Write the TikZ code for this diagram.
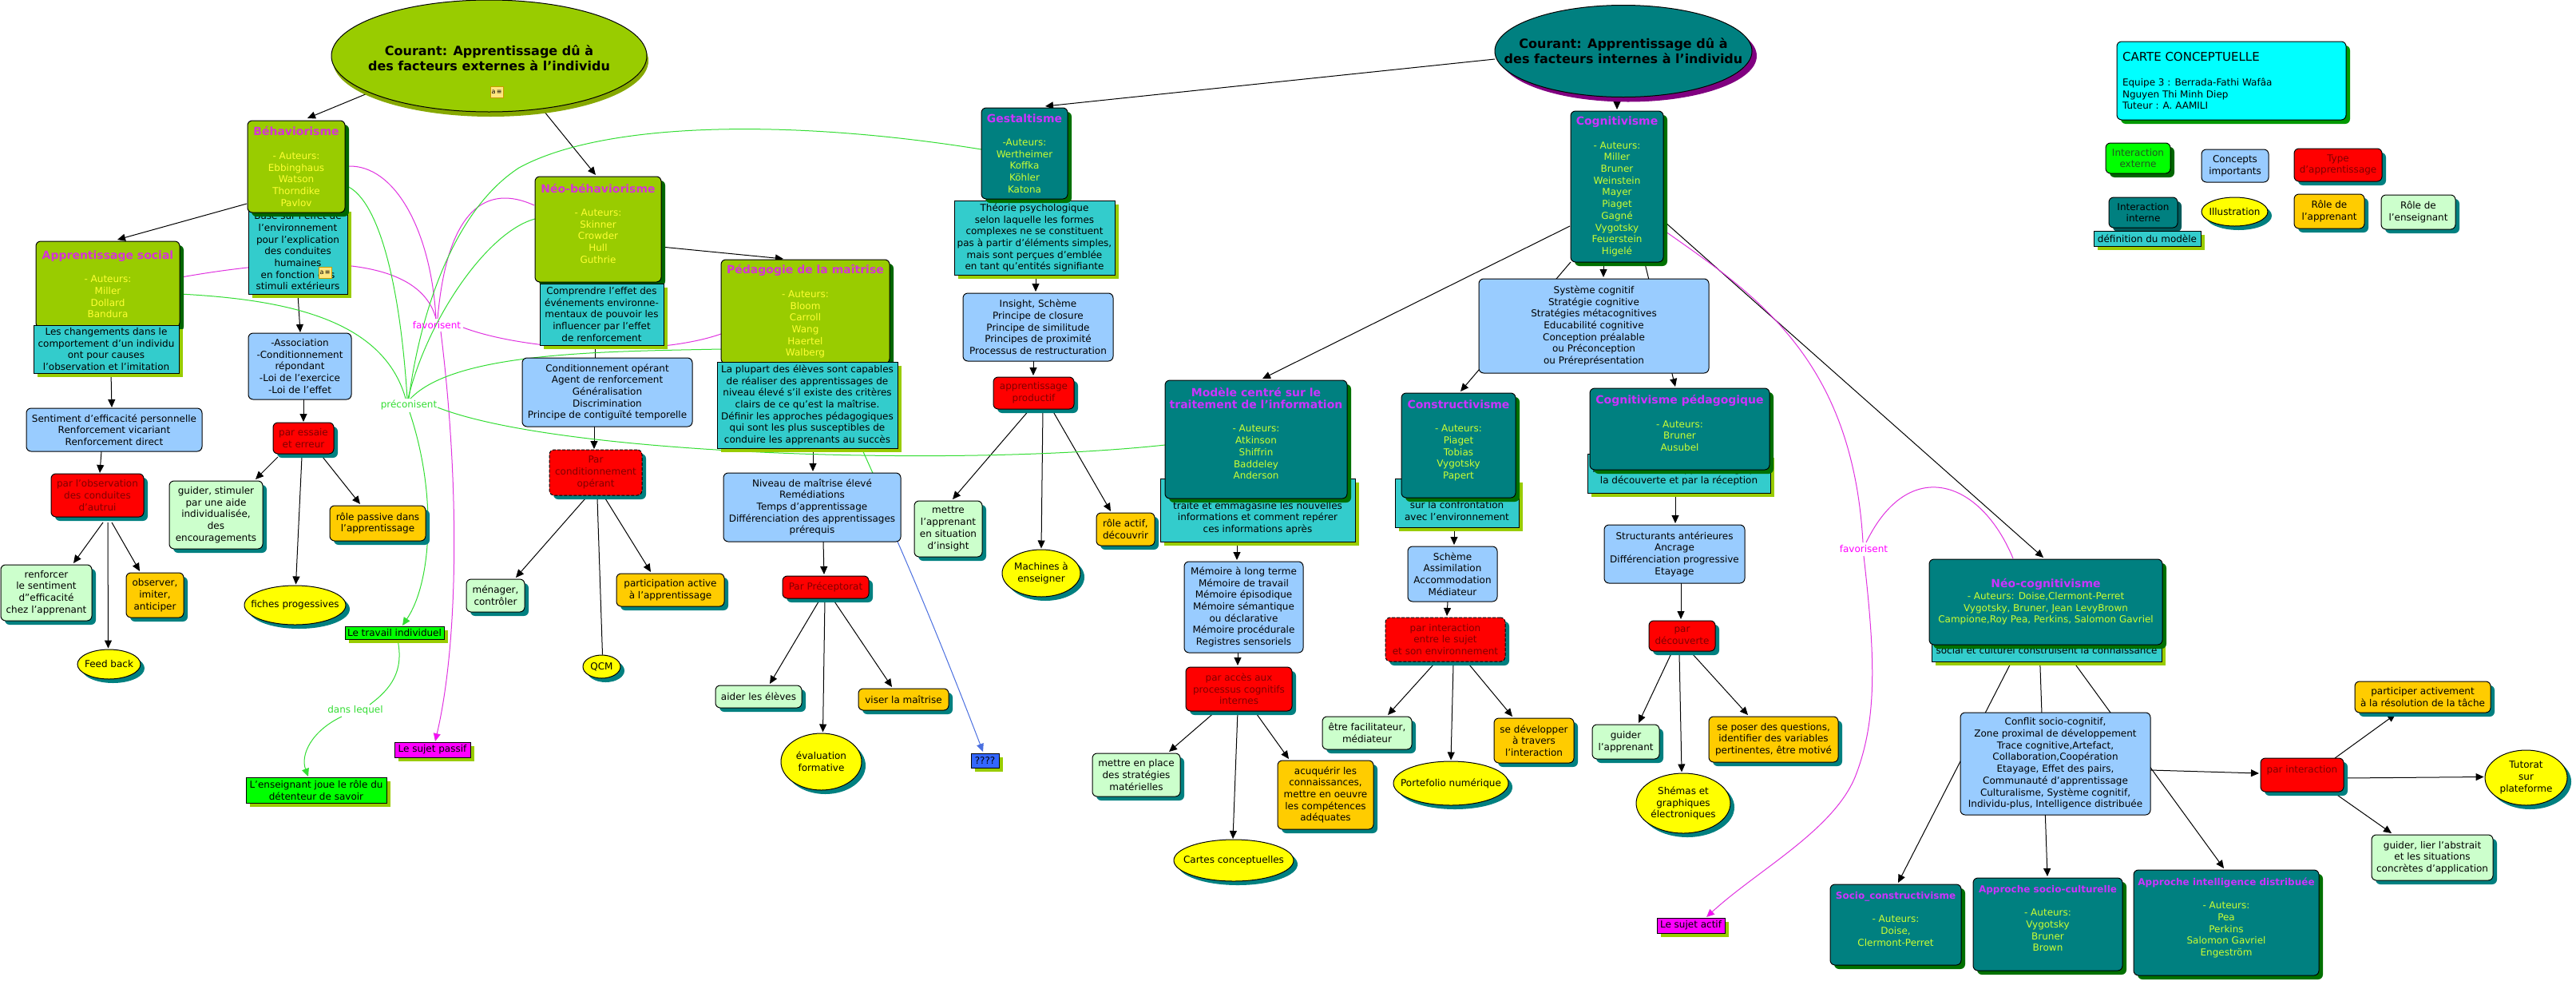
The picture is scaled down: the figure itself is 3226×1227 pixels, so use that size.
\documentclass[tikz,border=0pt]{standalone}
\usepackage{fontspec}
\setmainfont{DejaVu Sans}
\usetikzlibrary{shapes.geometric,shadows,arrows.meta,calc}
\pgfdeclarelayer{bg}
\pgfsetlayers{bg,main}
\definecolor{cGC}{HTML}{99CC00}
\definecolor{cGCsh}{HTML}{006600}
\definecolor{cTC}{HTML}{008080}
\definecolor{cTCsh}{HTML}{007000}
\definecolor{cTD}{HTML}{33CCCC}
\definecolor{cTDsh}{HTML}{99CC00}
\definecolor{cLB}{HTML}{99CCFF}
\definecolor{cRD}{HTML}{FF0000}
\definecolor{cRDt}{HTML}{800000}
\definecolor{cSh}{HTML}{008080}
\definecolor{cLG}{HTML}{CCFFCC}
\definecolor{cOR}{HTML}{FFCC00}
\definecolor{cYL}{HTML}{FFFF00}
\definecolor{cTitG}{HTML}{D633D6}
\definecolor{cTitT}{HTML}{CC33FF}
\definecolor{cAutG}{HTML}{FFFF33}
\definecolor{cAutT}{HTML}{CCFF33}
\definecolor{cMag}{HTML}{E033E0}
\definecolor{cMagB}{HTML}{FF00FF}
\definecolor{cLine}{HTML}{33DD33}
\definecolor{cBright}{HTML}{00FF00}
\definecolor{cBlueQ}{HTML}{3366FF}
\definecolor{cBlueL}{HTML}{4A6FE0}
\definecolor{cCyan}{HTML}{00FFFF}
\definecolor{cExtSh}{HTML}{86A800}
\definecolor{cPurp}{HTML}{800080}
\definecolor{cCarteSh}{HTML}{009900}
\definecolor{cIcon}{HTML}{FFE680}
\definecolor{cIconB}{HTML}{C89B00}
\definecolor{cIntSh}{HTML}{005A5A}
\definecolor{cExtTxt}{HTML}{225522}
\tikzset{
  base/.style={inner sep=0pt, outer sep=0pt, align=center, font=\fontsize{6}{7.35}\selectfont, draw=black, line width=0.5pt},
  shT/.style={drop shadow={shadow xshift=2.5pt, shadow yshift=-2.5pt, fill=cSh, opacity=1}},
  gc/.style={base, rounded corners=3pt, fill=cGC, text=cAutG, drop shadow={shadow xshift=2.5pt, shadow yshift=-2.5pt, fill=cGCsh, opacity=1}},
  tc/.style={base, rounded corners=3pt, fill=cTC, text=cAutT, drop shadow={shadow xshift=2.5pt, shadow yshift=-2.5pt, fill=cTCsh, opacity=1}},
  td/.style={base, fill=cTD, drop shadow={shadow xshift=2.5pt, shadow yshift=-2.5pt, fill=cTDsh, opacity=1}},
  lb/.style={base, rounded corners=3pt, fill=cLB},
  rd/.style={base, rounded corners=3pt, fill=cRD, text=cRDt, shT},
  rdd/.style={rd, dash pattern=on 2pt off 1pt},
  lg/.style={base, rounded corners=3pt, fill=cLG, shT},
  orn/.style={base, rounded corners=3pt, fill=cOR, shT},
  yel/.style={base, ellipse, fill=cYL, shT},
  msc/.style={base, drop shadow={shadow xshift=2.5pt, shadow yshift=-2.5pt, fill=cTDsh, opacity=1}},
  txt/.style={inner sep=0pt, outer sep=0pt, align=center, font=\fontsize{6}{7.35}\selectfont, text=black},
  bigtxt/.style={inner sep=0pt, outer sep=0pt, align=center, font=\fontsize{8}{9.5}\selectfont\bfseries, text=black},
  lblM/.style={inner sep=0pt, font=\fontsize{6}{7.35}\selectfont, text=cMagB},
  lblG/.style={inner sep=0pt, font=\fontsize{6}{7.35}\selectfont, text=cLine},
  icon/.style={draw=cIconB, fill=cIcon, line width=0.4pt, minimum width=8pt, minimum height=7pt, inner sep=0pt, font=\fontsize{4}{4}\selectfont, text=black},
  blk/.style={draw=black, line width=0.5pt},
  arr/.style={blk, -{Triangle[length=5pt,width=4.5pt]}},
  mag/.style={draw=cMag, line width=0.5pt},
  marr/.style={mag, -{Triangle[length=5pt,width=4.5pt,fill=cMagB]}},
  grn/.style={draw=cLine, line width=0.5pt},
  garr/.style={grn, -{Triangle[length=5pt,width=4.5pt,fill=cLine]}},
  barr/.style={draw=cBlueL, line width=0.5pt, -{Triangle[length=5pt,width=4.5pt]}}
}
\newcommand\bx[7]{\node[#1, minimum width={(#5-#3)*0.5pt}, minimum height={(#6-#4)*0.5pt}] (#2) at ({(#3+#5)/2},{(#4+#6)/2}) {#7};}
\newcommand\ex[7]{\node[#1, minimum width={(#5-#3)*0.5pt}, minimum height={(#6-#4)*0.5pt}, label={[txt]center:{#7}}] (#2) at ({(#3+#5)/2},{(#4+#6)/2}) {};}
\newcommand\ttlG[1]{{\fontsize{7}{7.35}\selectfont\bfseries\color{cTitG}#1}}
\newcommand\ttlT[1]{{\fontsize{7}{7.35}\selectfont\bfseries\color{cTitT}#1}}
\newcommand\ttlS[1]{{\fontsize{6}{7.35}\selectfont\bfseries\color{cTitT}#1}}
\begin{document}
\begin{tikzpicture}[x=0.5pt,y=-0.5pt]
\useasboundingbox (0,0) rectangle (3226,1227);
\begin{pgfonlayer}{bg}
\fill[white] (0,0) rectangle (3226,1227);
\end{pgfonlayer}

% ---------- main ellipses ----------
\node[base, ellipse, fill=cGC, minimum width=197.5pt, minimum height=70pt,
  drop shadow={shadow xshift=1pt, shadow yshift=-3pt, fill=cExtSh, opacity=1},
  label={[bigtxt]center:{~\\Courant: Apprentissage dû à\\des facteurs externes à l'individu}}] (ext) at (612.5,70) {};
\node[icon] (ic1) at (622,115) {a\,≡};
\node[base, ellipse, fill=cTC, minimum width=161pt, minimum height=57.5pt,
  drop shadow={shadow xshift=3pt, shadow yshift=-3pt, fill=cPurp, opacity=1},
  label={[bigtxt]center:{Courant: Apprentissage dû à\\des facteurs internes à l'individu}}] (intE) at (2033,64) {};

% ---------- left (external) branch ----------
\bx{td}{basebox}{311}{260}{435}{368}{Basé sur l'effet de\\l'environnement\\pour  l'explication\\des conduites\\humaines\\en fonction des\\stimuli extérieurs}
\node[icon] (ic2) at (407,341) {a\,≡};
\bx{gc}{behav}{310}{151}{432}{266}{\ttlG{Béhaviorisme}\\[7.35pt]- Auteurs:\\Ebbinghaus\\Watson\\Thorndike\\Pavlov}
\bx{gc}{asoc}{45}{302}{225}{410}{\ttlG{Apprentissage social}\\[7.35pt]- Auteurs:\\Miller\\Dollard\\Bandura}
\bx{td}{chg}{42}{407}{224}{467}{Les changements dans le\\comportement d'un individu\\ont pour causes\\l'observation et l'imitation}
\bx{gc}{neobeh}{670}{221}{828}{353}{\ttlG{Néo-béhaviorisme}\\[7.35pt]- Auteurs:\\Skinner\\Crowder\\Hull\\Guthrie\\~}
\bx{td}{compr}{676}{355}{831}{432}{Comprendre l'effet des\\événements environne-\\mentaux de pouvoir les\\influencer par l'effet\\de renforcement}
\bx{gc}{pedag}{903}{325}{1114}{455}{\ttlG{Pédagogie de la maîtrise}\\[7.35pt]- Auteurs:\\Bloom\\Carroll\\Wang\\Haertel\\Walberg}
\bx{td}{plupart}{898}{453}{1124}{561}{La plupart des élèves sont capables\\de réaliser des apprentissages de\\niveau élevé  s'il existe des critères\\clairs de ce qu'est la maîtrise.\\ Définir les approches pédagogiques\\qui sont les plus susceptibles de\\conduire les apprenants au succès}

\bx{lb}{sentim}{33}{511}{253}{565}{Sentiment d'efficacité personnelle\\Renforcement vicariant\\Renforcement direct}
\bx{rd}{parobs}{64}{593}{180}{647}{par l'observation\\des conduites\\d'autrui}
\bx{lg}{renf}{1}{707}{115}{777}{renforcer\\le sentiment\\d"efficacité\\chez l'apprenant}
\bx{orn}{observer}{158}{717}{230}{773}{observer,\\imiter,\\anticiper}
\ex{yel}{feedback}{97}{813}{176}{850}{Feed back}

\bx{lb}{assoc}{311}{417}{440}{500}{-Association\\-Conditionnement\\répondant\\-Loi de l'exercice\\-Loi de l'effet}
\bx{rd}{paress}{342}{529}{418}{568}{par essaie\\et erreur}
\bx{lg}{guider1}{212}{602}{329}{687}{guider, stimuler\\par une aide\\individualisée,\\des\\encouragements}
\bx{orn}{passive}{413}{633}{533}{677}{rôle passive dans\\l’apprentissage}
\ex{yel}{fiches}{306}{733}{433}{782}{fiches progessives}

\bx{lb}{condop}{654}{448}{867}{534}{Conditionnement opérant\\Agent de renforcement\\Généralisation\\Discrimination\\Principe de contiguïté temporelle}
\bx{rdd}{parcond}{688}{563}{804}{620}{Par\\conditionnement\\opérant}
\bx{lg}{menager}{584}{725}{657}{766}{ménager,\\contrôler}
\bx{orn}{particip}{772}{718}{907}{759}{participation active\\à l’apprentissage}
\ex{yel}{qcm}{730}{820}{777}{849}{QCM}

\bx{lb}{niveau}{906}{592}{1128}{678}{Niveau de maîtrise  élevé\\Remédiations\\Temps d’apprentissage\\Différenciation des apprentissages\\prérequis}
\bx{rd}{precept}{980}{721}{1088}{749}{Par Préceptorat}
\bx{lg}{aider}{896}{858}{1004}{886}{aider les élèves}
\bx{orn}{viser}{1075}{862}{1188}{889}{viser la maîtrise}
\ex{yel}{evalf}{978}{918}{1079}{989}{évaluation\\formative}
\bx{msc,fill=cBlueQ}{qqq}{1216}{943}{1251}{961}{????}

\bx{msc,fill=cBright}{travail}{432}{784}{556}{800}{Le travail individuel}
\bx{msc,fill=cBright}{enseign}{308}{973}{484}{1005}{L'enseignant joue le rôle du\\détenteur de savoir}
\bx{msc,fill=cMagB}{passif}{494}{929}{589}{948}{Le sujet passif}

% ---------- Gestaltisme ----------
\bx{td}{theorie}{1195}{251}{1396}{344}{Théorie psychologique\\selon laquelle les formes\\complexes ne se constituent\\pas à partir d'éléments simples,\\mais sont perçues d'emblée\\en tant qu'entités signifiante}
\bx{tc}{gestalt}{1229}{135}{1337}{249}{\ttlT{Gestaltisme}\\[7.35pt]-Auteurs:\\Wertheimer\\Koffka\\Köhler\\Katona}
\bx{lb}{insight}{1206}{367}{1394}{452}{Insight, Schème\\Principe de closure\\Principe de similitude\\Principes de proximité\\Processus de restructuration}
\bx{rd}{appprod}{1244}{472}{1345}{512}{apprentissage\\productif}
\bx{lg}{mettre1}{1145}{627}{1230}{697}{mettre\\l'apprenant\\en situation\\d'insight}
\ex{yel}{machines}{1255}{688}{1353}{747}{Machines à\\enseigner}
\bx{orn}{actif}{1373}{642}{1446}{683}{rôle actif,\\découvrir}

% ---------- Cognitivisme ----------
\bx{tc}{cognit}{1967}{139}{2083}{328}{\ttlT{Cognitivisme}\\[7.35pt]- Auteurs:\\Miller\\Bruner\\Weinstein\\Mayer\\Piaget\\Gagné\\Vygotsky\\Feuerstein\\Higelé}
\bx{lb}{systeme}{1852}{349}{2140}{467}{Système cognitif\\Stratégie cognitive\\Stratégies métacognitives\\Educabilité cognitive\\Conception préalable\\ou Préconception\\ou Préreprésentation}

\bx{td}{modeleT}{1453}{599}{1697}{678}{~\\~\\traite et emmagasine les nouvelles\\informations et comment repérer\\ces informations après}
\bx{tc}{modele}{1459}{476}{1687}{624}{\ttlT{Modèle centré sur le}\\\ttlT{traitement de l'information}\\[7.35pt]- Auteurs:\\Atkinson\\Shiffrin\\Baddeley\\Anderson\\~}
\bx{lb}{memoire}{1483}{703}{1632}{817}{Mémoire à long terme\\Mémoire de travail\\Mémoire épisodique\\Mémoire sémantique\\ou déclarative\\Mémoire procédurale\\Registres sensoriels}
\bx{rd}{paracces}{1485}{835}{1618}{890}{par accès aux\\processus cognitifs\\internes}
\bx{lg}{mettre2}{1368}{943}{1478}{997}{mettre en place\\des stratégies\\matérielles}
\ex{yel}{cartes}{1470}{1051}{1620}{1103}{Cartes conceptuelles}
\bx{orn}{acquerir}{1600}{952}{1720}{1038}{acuquérir les\\connaissances,\\mettre en oeuvre\\les compétences\\adéquates}

\bx{td}{constrT}{1747}{599}{1902}{660}{~\\~\\sur la confrontation\\avec l'environnement}
\bx{tc}{constr}{1755}{492}{1898}{623}{\ttlT{Constructivisme}\\[7.35pt]- Auteurs:\\Piaget\\Tobias\\Vygotsky\\Papert\\~}
\bx{lb}{scheme}{1763}{684}{1875}{753}{Schème\\Assimilation\\Accommodation\\Médiateur}
\bx{rdd}{parinter1}{1735}{773}{1885}{828}{par interaction\\entre le sujet\\et son environnement}
\bx{lg}{facil}{1656}{897}{1768}{938}{être facilitateur,\\médiateur}
\ex{yel}{portef}{1745}{953}{1889}{1008}{Portefolio numérique}
\bx{orn}{develop}{1871}{899}{1971}{955}{se développer\\à travers\\l'interaction}

\bx{td}{cogpedT}{1988}{568}{2217}{617}{~\\Met l'accent sur l'apprentissage par\\la découverte et par la réception}
\bx{tc}{cogped}{1991}{486}{2216}{588}{\ttlT{Cognitivisme pédagogique}\\[7.35pt]- Auteurs:\\Bruner\\Ausubel\\~}
\bx{lb}{struct}{2009}{657}{2185}{730}{Structurants antérieures\\Ancrage\\Différenciation progressive\\Etayage}
\bx{rd}{pardec}{2065}{777}{2148}{815}{par\\découverte}
\bx{lg}{guider2}{1994}{907}{2078}{950}{guider\\l'apprenant}
\ex{yel}{shemas}{2049}{968}{2167}{1043}{Shémas et\\graphiques\\électroniques}
\bx{orn}{poser}{2140}{897}{2302}{954}{se poser des questions,\\identifier des variables\\pertinentes, être motivé}
\bx{msc,fill=cMagB}{actifS}{2075}{1149}{2160}{1168}{Le sujet actif}

% ---------- Neo-cognitivisme ----------
\bx{td}{neocogT}{2419}{795}{2707}{828}{~\\social et culturel construisent la connaissance}
\bx{tc}{neocog}{2416}{700}{2708}{807}{\ttlT{Néo-cognitivisme}\\- Auteurs: Doise,Clermont-Perret\\Vygotsky, Bruner, Jean LevyBrown\\Campione,Roy Pea, Perkins, Salomon Gavriel}
\bx{lb}{conflit}{2455}{892}{2693}{1020}{Conflit socio-cognitif,\\Zone proximal de développement\\Trace cognitive,Artefact,\\Collaboration,Coopération\\Etayage, Effet des pairs,\\Communauté d’apprentissage\\Culturalisme, Système cognitif,\\Individu-plus, Intelligence distribuée}
\bx{tc}{socioc}{2292}{1107}{2456}{1208}{\ttlS{Socio\_constructivisme}\\[7.35pt]- Auteurs:\\Doise,\\Clermont-Perret\\~}
\bx{tc}{appsc}{2471}{1099}{2658}{1215}{\ttlS{Approche socio-culturelle}\\[7.35pt]- Auteurs:\\Vygotsky\\Bruner\\Brown\\~}
\bx{tc}{appid}{2672}{1089}{2904}{1221}{\ttlS{Approche intelligence distribuée}\\[7.35pt]- Auteurs:\\Pea\\Perkins\\Salomon Gavriel\\Engeström\\~}
\bx{rd}{parinter2}{2831}{949}{2935}{991}{par interaction\\~}
\bx{orn}{particip2}{2949}{853}{3119}{892}{participer activement\\à la résolution de la tâche}
\ex{yel}{tutorat}{3112}{939}{3215}{1008}{Tutorat\\sur\\plateforme}
\bx{lg}{guider3}{2970}{1045}{3122}{1102}{guider, lier l'abstrait\\et les situations\\concrètes d'application}

% ---------- legend ----------
\bx{base,rounded corners=3pt,fill=cCyan,drop shadow={shadow xshift=2.5pt,shadow yshift=-2.5pt,fill=cCarteSh,opacity=1}}{carte}{2651}{52}{2938}{150}{}
\node[txt, anchor=west, font=\fontsize{7.5}{9}\selectfont] (carteT) at (2658,71) {CARTE CONCEPTUELLE};
\node[txt, anchor=west, align=left] (carteI) at (2658,117.5) {Equipe 3 : Berrada-Fathi Wafâa\\Nguyen Thi Minh Diep\\Tuteur : A. AAMILI};
\bx{base,rounded corners=3pt,fill=cBright,text=cExtTxt,drop shadow={shadow xshift=2.5pt,shadow yshift=-2.5pt,fill=cGCsh,opacity=1}}{intext}{2637}{179}{2718}{217}{Interaction\\externe}
\bx{lb}{concepts}{2757}{187}{2841}{228}{Concepts\\importants}
\bx{rd}{typeapp}{2873}{186}{2983}{227}{Type\\d'apprentissage}
\bx{base,rounded corners=3pt,fill=cTC,drop shadow={shadow xshift=2.5pt,shadow yshift=-2.5pt,fill=cIntSh,opacity=1}}{intint}{2641}{247}{2727}{285}{Interaction\\interne}
\bx{td}{defmod}{2622}{289}{2756}{308}{définition du modèle}
\ex{yel}{illus}{2757}{247}{2840}{283}{Illustration}
\bx{orn}{roleapp}{2873}{243}{2961}{286}{Rôle de\\l'apprenant}
\bx{lg}{roleens}{2982}{244}{3075}{287}{Rôle de\\l'enseignant}

% ---------- linking phrases ----------
\node[lblM] (fav1) at (547,407) {favorisent};
\node[lblG] (prec) at (512,507) {préconisent};
\node[lblG] (dans) at (445,889) {dans lequel};
\node[lblM] (fav2) at (2334,687) {favorisent};

% ---------- connectors ----------
\begin{pgfonlayer}{bg}
\draw[arr] ($(ext)+(-150,46)$) -- ($(behav)+(14,-60.5)$);
\draw[arr] ($(ext)+(64.5,64)$) -- ($(neobeh)+(-3,-68)$);
\draw[arr] ($(behav)+(-62,46.5)$) -- ($(asoc)+(12,-56)$);
\draw[arr] ($(basebox)+(0,54)$) -- ($(assoc)+(0.5,-42.5)$);
\draw[arr] ($(neobeh)+(79,22)$) -- ($(pedag)+(-27.5,-66)$);
\draw[arr] ($(chg)+(6,30)$) -- ($(sentim)+(-3,-28)$);
\draw[arr] ($(sentim)+(-16,27)$) -- ($(parobs)+(3,-28)$);
\draw[arr] ($(parobs)+(7,34)$) -- ($(renf)+(34,-37)$);
\draw[arr] ($(parobs)+(13,34)$) -- ($(feedback)+(-1,-20)$);
\draw[arr] ($(parobs)+(18,34)$) -- ($(observer)+(-19,-30)$);
\draw[arr] ($(assoc)+(4.5,41.5)$) -- ($(paress)+(0,-20.5)$);
\draw[arr] ($(paress)+(-32,23.5)$) -- ($(guider1)+(49.5,-44.5)$);
\draw[arr] ($(paress)+(-2,23.5)$) -- ($(fiches)+(1,-26)$);
\draw[arr] ($(paress)+(24,23.5)$) -- ($(passive)+(-22,-24)$);
\draw[blk] ($(compr)+(-8.5,38.5)$) -- ($(condop)+(-15.5,-43)$);
\draw[arr] ($(condop)+(-16.5,43)$) -- ($(parcond)+(-2,-29.5)$);
\draw[arr] ($(parcond)+(-13,32.5)$) -- ($(menager)+(25.5,-22.5)$);
\draw[blk] ($(parcond)+(2,32.5)$) -- ($(qcm)+(1,-15)$);
\draw[arr] ($(parcond)+(12,32.5)$) -- ($(particip)+(-24.5,-22.5)$);
\draw[arr] ($(plupart)+(7,54)$) -- ($(niveau)+(1,-45)$);
\draw[arr] ($(niveau)+(14,43)$) -- ($(precept)+(-2,-16)$);
\draw[arr] ($(precept)+(-7,15)$) -- ($(aider)+(14,-16)$);
\draw[arr] ($(precept)+(-1,15)$) -- ($(evalf)+(2,-37)$);
\draw[arr] ($(precept)+(9,15)$) -- ($(viser)+(-14.5,-15.5)$);
\draw[barr] ($(niveau)+(107,43)$) .. controls (1160,760) and (1200,860) .. ($(qqq)+(-2.5,-11)$);
\draw[arr] ($(theorie)+(1.5,46.5)$) -- ($(insight)+(-3,-44.5)$);
\draw[arr] ($(insight)+(-6,42.5)$) -- ($(appprod)+(-0.5,-22)$);
\draw[arr] ($(appprod)+(-4.5,20)$) -- ($(mettre1)+(5.5,-37)$);
\draw[arr] ($(appprod)+(11.5,20)$) -- ($(machines)+(0,-31)$);
\draw[arr] ($(appprod)+(22.5,20)$) -- ($(actif)+(-18.5,-22.5)$);
\draw[arr] ($(intE)+(-161,10)$) -- ($(gestalt)+(26,-59)$);
\draw[arr] ($(intE)+(-8,58)$) -- ($(cognit)+(0,-96.5)$);
\draw[arr] ($(cognit)+(-59,49.5)$) -- ($(modele)+(8,-76)$);
\draw[arr] ($(cognit)+(-17,94.5)$) -- ($(systeme)+(12,-61)$);
\draw[arr] ($(cognit)+(-58,94.5)$) -- ($(constr)+(2.5,-67.5)$);
\draw[arr] ($(cognit)+(35,96.5)$) -- ($(cogped)+(-5.5,-53)$);
\draw[arr] ($(cognit)+(60,44.5)$) -- ($(neocog)+(-3,-55.5)$);
\draw[arr] ($(modeleT)+(-26,39.5)$) -- ($(memoire)+(-8.5,-59)$);
\draw[arr] ($(memoire)+(-7.5,57)$) -- ($(paracces)+(-1.5,-29.5)$);
\draw[arr] ($(paracces)+(-28.5,27.5)$) -- ($(mettre2)+(41,-29)$);
\draw[arr] ($(paracces)+(-1.5,27.5)$) -- ($(cartes)+(-1,-27)$);
\draw[arr] ($(paracces)+(19.5,27.5)$) -- ($(acquerir)+(-46,-45)$);
\draw[arr] ($(constrT)+(-3.5,30.5)$) -- ($(scheme)+(2,-36.5)$);
\draw[arr] ($(scheme)+(-6,34.5)$) -- ($(parinter1)+(2,-29.5)$);
\draw[arr] ($(parinter1)+(-15,31.5)$) -- ($(facil)+(26,-22.5)$);
\draw[arr] ($(parinter1)+(10,31.5)$) -- ($(portef)+(0,-29)$);
\draw[arr] ($(parinter1)+(30,31.5)$) -- ($(develop)+(-27,-30)$);
\draw[arr] ($(cogpedT)+(-4.5,24.5)$) -- ($(struct)+(1,-38.5)$);
\draw[arr] ($(struct)+(8,36.5)$) -- ($(pardec)+(-1.5,-21)$);
\draw[arr] ($(pardec)+(-13.5,22)$) -- ($(guider2)+(16,-23.5)$);
\draw[arr] ($(pardec)+(-3.5,22)$) -- ($(shemas)+(-2,-39)$);
\draw[arr] ($(pardec)+(12.5,22)$) -- ($(poser)+(-32,-30.5)$);
\draw[arr] ($(neocog)+(-32,53.5)$) -- ($(socioc)+(3,-52.5)$);
\draw[arr] ($(neocog)+(-8,53.5)$) -- ($(appsc)+(-0.5,-60)$);
\draw[arr] ($(neocog)+(19,53.5)$) -- ($(appid)+(-3,-68)$);
\draw[arr] ($(conflit)+(119,8)$) -- ($(parinter2)+(-54,-2)$);
\draw[arr] ($(parinter2)+(41,-21)$) -- ($(particip2)+(-34,21.5)$);
\draw[arr] ($(parinter2)+(54,4)$) -- ($(tutorat)+(-53,-1)$);
\draw[arr] ($(parinter2)+(38,21)$) -- ($(guider3)+(-51,-30.5)$);
% magenta: favorisent
\draw[mag] ($(behav)+(65,-0.5)$) .. controls (495,206) and (540,290) .. ($(fav1)+(-1,-8)$);
\draw[mag] ($(asoc)+(92,-9)$) .. controls (380,320) and (525,318) .. ($(fav1)+(-1,-8)$);
\draw[mag] ($(neobeh)+(-80,-30)$) .. controls (610,230) and (560,260) .. ($(fav1)+(1,-8)$);
\draw[mag] ($(fav1)+(33,3)$) .. controls (660,440) and (820,447) .. ($(pedag)+(-105.5,28)$);
\draw[marr] ($(fav1)+(5,8)$) .. controls (575,600) and (575,800) .. ($(passif)+(3.5,-10.5)$);
\draw[mag] ($(cognit)+(61,56.5)$) .. controls (2200,370) and (2320,450) .. ($(fav2)+(-1,-8)$);
\draw[mag] ($(neocog)+(-41,-54.5)$) .. controls (2480,600) and (2390,570) .. ($(fav2)+(3,-8)$);
\draw[marr] ($(fav2)+(0,9)$) .. controls (2348,820) and (2352,900) .. (2323,973) .. controls (2295,1040) and (2200,1090) .. ($(actifS)+(19.5,-10.5)$);
% green: preconisent
\draw[grn] ($(behav)+(61,23.5)$) .. controls (470,245) and (500,340) .. ($(prec)+(-2,-8)$);
\draw[grn] ($(asoc)+(90,12)$) .. controls (360,375) and (480,400) .. ($(prec)+(-4,-8)$);
\draw[grn] ($(neobeh)+(-79,-13)$) .. controls (610,290) and (535,400) .. ($(prec)+(-1,-8)$);
\draw[grn] ($(gestalt)+(-54,-5)$) .. controls (1000,150) and (760,150) .. (650,210) .. controls (565,265) and (525,400) .. ($(prec)+(0,-8)$);
\draw[grn] ($(pedag)+(-105.5,47)$) .. controls (760,440) and (570,440) .. ($(prec)+(2,-8)$);
\draw[grn] ($(prec)+(36,3)$) .. controls (700,570) and (1200,585) .. ($(modele)+(-114,7)$);
\draw[grn] ($(plupart)+(68,54)$) -- ($(niveau)+(111,35)$);
\draw[garr] ($(prec)+(1,9)$) .. controls (548,620) and (540,730) .. ($(travail)+(10,-9)$);
\draw[grn] ($(travail)+(4,9)$) .. controls (506,840) and (490,862) .. ($(dans)+(18,-7)$);
\draw[garr] ($(dans)+(-17,8)$) .. controls (390,915) and (376,945) .. ($(enseign)+(-10,-17)$);
\end{pgfonlayer}
\end{tikzpicture}
\end{document}
